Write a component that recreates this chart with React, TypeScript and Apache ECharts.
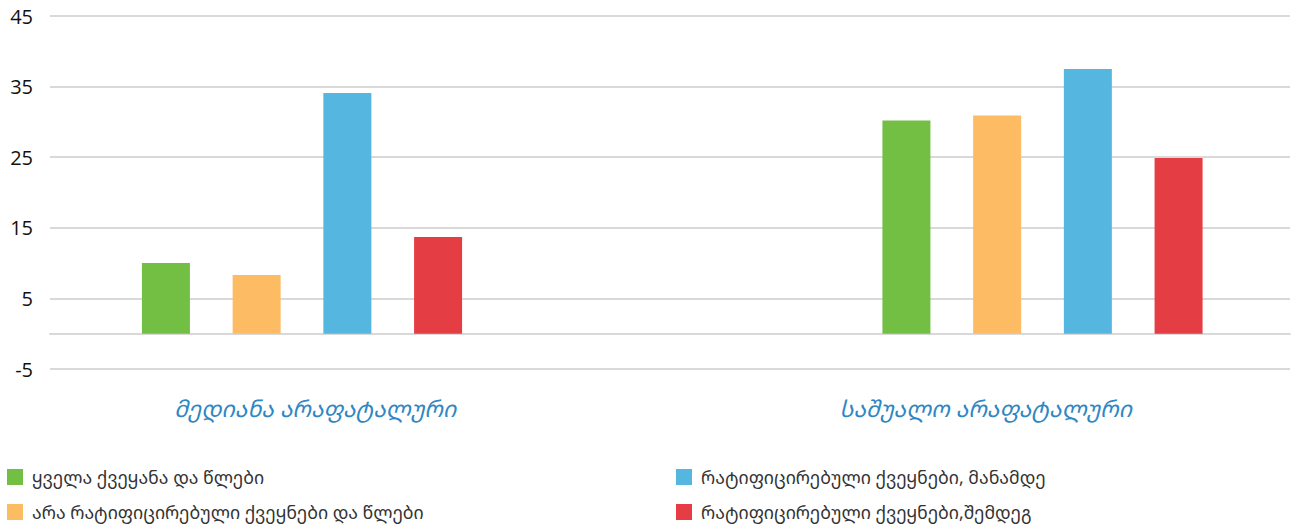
import React, { useEffect, useRef } from "react";
import * as echarts from "echarts";

const categories = ["მედიანა არაფატალური", "საშუალო არაფატალური"];
const seriesNames = [
  "ყველა ქვეყანა და წლები",
  "არა რატიფიცირებული ქვეყნები და წლები",
  "რატიფიცირებული ქვეყნები, მანამდე",
  "რატიფიცირებული ქვეყნები,შემდეგ",
];
const allCountries = [10.0, 30.2];
const notRatified = [8.3, 30.9];
const ratifiedBefore = [34.1, 37.5];
const ratifiedAfter = [13.7, 24.9];
const seriesValues = [allCountries, notRatified, ratifiedBefore, ratifiedAfter];
const colors = ["#72bf44", "#fdbb63", "#55b7e0", "#e53d44"];

const GEO_FONT = "'Noto Sans Georgian', 'DejaVu Sans', sans-serif";

export default function App() {
  const ref = useRef<HTMLDivElement>(null);
  useEffect(() => {
    if (!ref.current) return;
    const chart = echarts.init(ref.current, undefined, { renderer: "svg" });
    const top = 16;
    const height = 353;
    const legendPos = [
      { left: 7, top: 468 },
      { left: 7, top: 503 },
      { left: 676, top: 468 },
      { left: 676, top: 503 },
    ];
    chart.setOption({
      animation: false,
      grid: [
        { left: 50, top, width: 1240, height, containLabel: false },
        { left: 302, top, width: 740.5, height, containLabel: false },
        { left: 315, top, width: 670.5, height, containLabel: false },
      ],
      xAxis: [
        {
          type: "category",
          gridIndex: 0,
          data: categories,
          axisLine: { show: true, onZero: true, lineStyle: { color: "#d9d9d9", width: 2 } },
          axisTick: { show: false },
          axisLabel: { show: false },
        },
        {
          type: "category",
          gridIndex: 1,
          data: categories,
          boundaryGap: false,
          show: false,
        },
        {
          type: "category",
          gridIndex: 2,
          data: categories,
          boundaryGap: false,
          axisLine: { show: false, onZero: false },
          axisTick: { show: false },
          axisLabel: {
            show: true,
            interval: 0,
            margin: 27,
            fontSize: 23,
            fontStyle: "italic",
            color: "#2e87c3",
            fontFamily: GEO_FONT,
          },
        },
      ],
      yAxis: [
        {
          type: "value",
          gridIndex: 0,
          min: -5,
          max: 45,
          interval: 10,
          axisLine: { show: false },
          axisTick: { show: false },
          axisLabel: {
            fontSize: 20,
            color: "#111",
            margin: 17,
            fontFamily: "'Open Sans', sans-serif",
          },
          splitLine: { show: true, lineStyle: { color: "#d9d9d9", width: 2 } },
        },
        { type: "value", gridIndex: 1, min: -5, max: 45, interval: 10, show: false },
        { type: "value", gridIndex: 2, min: -5, max: 45, interval: 10, show: false },
      ],
      legend: seriesNames.map((name, i) => ({
        data: [name],
        left: legendPos[i].left,
        top: legendPos[i].top,
        padding: 0,
        itemWidth: 16,
        itemHeight: 16,
        icon: "rect",
        selectedMode: false,
        textStyle: { fontSize: 17.7, color: "#333", fontFamily: GEO_FONT, padding: [0, 0, 0, 4] },
      })),
      series: seriesNames.map((name, i) => ({
        name,
        type: "bar",
        xAxisIndex: 1,
        yAxisIndex: 1,
        data: seriesValues[i],
        barWidth: 48,
        barGap: "89%",
        clip: false,
        itemStyle: { color: colors[i] },
      })),
    });
    return () => chart.dispose();
  }, []);
  return (
    <div
      ref={ref}
      style={{ position: "fixed", left: 0, top: 0, width: 1293, height: 526, background: "#fff" }}
    />
  );
}
